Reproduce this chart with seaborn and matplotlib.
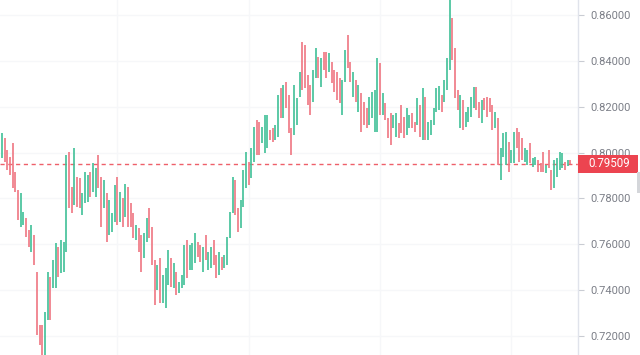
import numpy as np
import pandas as pd
import matplotlib
matplotlib.use("Agg")
import matplotlib.pyplot as plt
import matplotlib.transforms as mtransforms
from matplotlib.patches import Rectangle
import seaborn as sns

# ---- data ----
opens = [
    .7976, .8063, .8011, .7980, .8042, .7915, .7836, .7675, .7683, .7714,
    .7662, .7566, .7640, .7478, .7247, .7247, .7116, .7269, .7456, .7408,
    .7408, .7587, .7474, .7478, .7566, .8002, .7849, .7771, .7893, .7889,
    .7727, .7780, .7784, .7915, .7828, .7806, .7989, .7893, .7758, .7823,
    .7640, .7653, .7697, .7893, .7697, .7801, .7718, .7849, .7780, .7736,
    .7618, .7670, .7640, .7539, .7609, .7758, .7675, .7531, .7400, .7539,
    .7343, .7321, .7421, .7539, .7408, .7478, .7386, .7408, .7421, .7618,
    .7487, .7487, .7518, .7609, .7596, .7478, .7640, .7487, .7496, .7618,
    .7552, .7465, .7544, .7496, .7509, .7627, .7736, .7880, .7758, .7670,
    .7762, .7845, .7959, .7889, .7959, .8142, .8133, .8042, .7998, .8020,
    .8098, .8107, .8055, .8068, .8282, .8151, .8308, .8251, .8107, .8077,
    .8120, .8242, .8483, .8470, .8339, .8295, .8221, .8325, .8417, .8286,
    .8439, .8439, .8352, .8395, .8360, .8352, .8325, .8164, .8308, .8513,
    .8395, .8242, .8317, .8177, .8260, .8221, .8194, .8120, .8151, .8090,
    .8090, .8391, .8164, .8216, .8151, .8173, .8107, .8068, .8129, .8208,
    .8155, .8077, .8107, .8173, .8133, .8120, .8208, .8055, .8242, .8055,
    .8077, .8120, .8177, .8186, .8251, .8221, .8273, .8360, .8587, .8456,
    .8273, .8107, .8229, .8111, .8133, .8155, .8194, .8286, .8221, .8129,
    .8238, .8242, .8238, .8208, .8107, .8151, .7880, .7980, .7945, .8046,
    .7954, .7954, .8107, .8090, .8063, .7959, .7945, .8042, .7937, .7945,
    .7967, .7954, .8002, .7911, .8011, .7924, .7845, .7893, .7924, .7932,
    .7959, .7941, .7967,
]
closes = [
    .8085, .7959, .7924, .7902, .7845, .7828, .7705, .7823, .7740, .7631,
    .7587, .7683, .7509, .7203, .7159, .7100, .7304, .7478, .7269, .7531,
    .7605, .7456, .7618, .7609, .7989, .7758, .7736, .8020, .7762, .7758,
    .7823, .7915, .7902, .7806, .7954, .7932, .7845, .7675, .7880, .7609,
    .7793, .7736, .7858, .7683, .7828, .7675, .7863, .7675, .7675, .7627,
    .7683, .7566, .7478, .7649, .7714, .7627, .7509, .7334, .7509, .7343,
    .7465, .7496, .7574, .7413, .7518, .7378, .7435, .7465, .7596, .7452,
    .7596, .7605, .7649, .7544, .7522, .7587, .7531, .7566, .7587, .7509,
    .7452, .7566, .7487, .7552, .7631, .7740, .7893, .7727, .7653, .7793,
    .7924, .8002, .7858, .8020, .8111, .7989, .7989, .8111, .8164, .8164,
    .8055, .8046, .8120, .8251, .8151, .8295, .8194, .8085, .7989, .8295,
    .8238, .8352, .8273, .8282, .8208, .8164, .8360, .8456, .8325, .8413,
    .8360, .8325, .8435, .8304, .8264, .8229, .8216, .8317, .8448, .8369,
    .8308, .8352, .8221, .8295, .8090, .8120, .8107, .8242, .8264, .8273,
    .8413, .8164, .8260, .8142, .8063, .8033, .8164, .8173, .8063, .8085,
    .8063, .8194, .8164, .8107, .8090, .8238, .8068, .8282, .8055, .8133,
    .8142, .8194, .8282, .8290, .8177, .8317, .8413, .8670, .8404, .8238,
    .8186, .8251, .8098, .8177, .8199, .8242, .8286, .8186, .8151, .8229,
    .8186, .8155, .8177, .8098, .8177, .7945, .8020, .8085, .8090, .7915,
    .8011, .8090, .8020, .7959, .7967, .8020, .8011, .7954, .7976, .7980,
    .7915, .7915, .7915, .7945, .7932, .7836, .7967, .7976, .8002, .7998,
    .7924, .7967, .79509,
]
last_price = 0.79509
y_ticks = [0.72, 0.74, 0.76, 0.78, 0.80, 0.82, 0.84, 0.86]
grid_candles = [43, 92, 141, 190]

UP = "#40c097"
DOWN = "#ef7681"
PRICE_RED = "#ec4450"

sns.set_theme(style="white")
plt.rcParams['font.family'] = ['Roboto', 'DejaVu Sans']

fig = plt.figure(figsize=(6.4, 3.55), dpi=100)
fig.patch.set_facecolor("white")
ax = fig.add_axes([0, 0, 578 / 640, 1])

n = len(opens)
idx = np.arange(n)
o = np.array(opens)
c = np.array(closes)
direction = np.where(c >= o, "up", "down")
df = pd.DataFrame({
    "candle": np.repeat(idx, 2),
    "price": np.column_stack([o, c]).ravel(),
    "dir": np.repeat(direction, 2),
})

sns.lineplot(data=df, x="candle", y="price", units="candle", estimator=None,
             hue="dir", palette={"up": UP, "down": DOWN}, sort=False,
             legend=False, linewidth=1.2, ax=ax, zorder=3,
             solid_capstyle="butt")

ax.set_xlim(-0.75, 214.9)
ax.set_ylim(0.7116, 0.8666)
ax.set_xlabel("")
ax.set_ylabel("")

ax.yaxis.tick_right()
ax.set_yticks(y_ticks)
ax.set_yticklabels([f"{v:.5f}" for v in y_ticks])
ax.tick_params(axis="y", length=4, width=0.8, color="#c9ccd3", pad=5,
               labelsize=8, labelcolor="#7b7e87", right=True, left=False)
ax.set_xticks(grid_candles)
ax.tick_params(axis="x", length=0, labelbottom=False)

ax.grid(True, color="#f6f7f9", linewidth=1)
for s in ["top", "left", "bottom"]:
    ax.spines[s].set_visible(False)
ax.spines["right"].set_color("#e0e3eb")
ax.spines["right"].set_linewidth(1)

# last price line
ax.axhline(last_price, color=PRICE_RED, lw=1, ls=(0, (3, 2.6)), zorder=2, alpha=0.85)

# last price label box
trans = mtransforms.blended_transform_factory(ax.transAxes, ax.transData)
box_h = 0.0079
ax.add_patch(Rectangle((1.0, last_price - box_h / 2), 60 / 578, box_h,
                       transform=trans, facecolor=PRICE_RED, edgecolor="none",
                       clip_on=False, zorder=10))
ax.text(1.0 + 10 / 578, last_price, f"{last_price:.5f}", transform=trans,
        color="white", fontsize=8.3, va="center", ha="left", zorder=11,
        clip_on=False)

# small scroll handle at the right edge
fig.add_artist(Rectangle((637 / 640, (355 - 193) / 355), 3 / 640, 21 / 355,
                         transform=fig.transFigure, facecolor="#d4d6da",
                         edgecolor="none"))

fig.savefig("out.png", dpi=100, facecolor="white")
